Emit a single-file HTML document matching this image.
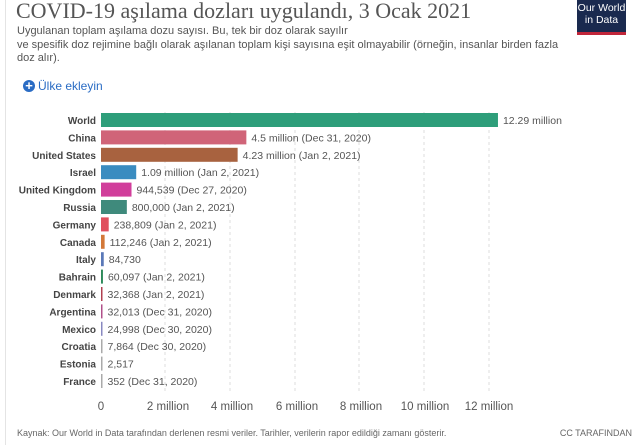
<!DOCTYPE html>
<html><head><style>
body{margin:0;width:640px;height:445px;background:#fff;position:relative;overflow:hidden;font-family:"Liberation Sans",sans-serif;}
.t{position:absolute;white-space:nowrap;}
</style></head><body>
<div style="position:absolute;left:5px;top:0;width:1px;height:445px;background:#e4e4e4"></div>
<div class="t" style="left:16px;top:-2px;font-family:'Liberation Serif',serif;font-size:22px;color:#555">COVID-19 aşılama dozları uygulandı, 3 Ocak 2021</div>
<div class="t" style="left:17px;top:25px;font-size:11px;color:#555;line-height:13.5px">Uygulanan toplam aşılama dozu sayısı. Bu, tek bir doz olarak sayılır<br>ve spesifik doz rejimine bağlı olarak aşılanan toplam kişi sayısına eşit olmayabilir (örneğin, insanlar birden fazla<br>doz alır).</div>
<div style="position:absolute;left:577px;top:0;width:49px;height:35px;background:#1a2a4f;border-bottom:3px solid #c0263a;box-sizing:border-box"></div>
<div class="t" style="left:577px;top:2px;width:49px;text-align:center;color:#fff;font-size:10.5px;line-height:12px">Our World<br>in Data</div>
<div style="position:absolute;left:23px;top:80px;width:12px;height:12px;border-radius:50%;background:#2a6cc4"></div>
<div class="t" style="left:23px;top:78px;width:12px;text-align:center;color:#fff;font-size:13px;font-weight:bold;line-height:15px">+</div>
<div class="t" style="left:38px;top:79px;font-size:12px;color:#2a6cc4">Ülke ekleyin</div>
<svg width="640" height="445" style="position:absolute;left:0;top:0" font-family="Liberation Sans, sans-serif">
<g stroke="#ddd" stroke-dasharray="3,3">
<line x1="165" y1="112" x2="165" y2="392"/><line x1="230" y1="112" x2="230" y2="392"/><line x1="295" y1="112" x2="295" y2="392"/><line x1="359" y1="112" x2="359" y2="392"/><line x1="424" y1="112" x2="424" y2="392"/><line x1="489" y1="112" x2="489" y2="392"/>
</g>
<g font-size="11.5" fill="#555" text-anchor="middle">
<text x="101" y="410">0</text><text x="168" y="410">2 million</text><text x="232" y="410">4 million</text><text x="297" y="410">6 million</text><text x="361" y="410">8 million</text><text x="425" y="410">10 million</text><text x="489" y="410">12 million</text>
</g>
<g id="rows" font-size="10.5">
</g>
<text x="17" y="436" font-size="9" fill="#666">Kaynak: Our World in Data tarafından derlenen resmi veriler. Tarihler, verilerin rapor edildiği zamanı gösterir.</text>
<text x="632" y="436" font-size="9" fill="#666" text-anchor="end">CC TARAFINDAN</text>
</svg>
<script>
var d=[["World",12.29,"#2e9e7a","12.29 million"],["China",4.5,"#d06478","4.5 million (Dec 31, 2020)"],["United States",4.23,"#a8623f","4.23 million (Jan 2, 2021)"],["Israel",1.09,"#3a8cc0","1.09 million (Jan 2, 2021)"],["United Kingdom",0.9445,"#d13e9b","944,539 (Dec 27, 2020)"],["Russia",0.8,"#3f8a7c","800,000 (Jan 2, 2021)"],["Germany",0.2388,"#e0505e","238,809 (Jan 2, 2021)"],["Canada",0.1122,"#d37838","112,246 (Jan 2, 2021)"],["Italy",0.0847,"#5a78b8","84,730"],["Bahrain",0.06,"#2e8a5a","60,097 (Jan 2, 2021)"],["Denmark",0.0324,"#b04050","32,368 (Jan 2, 2021)"],["Argentina",0.032,"#b0508a","32,013 (Dec 31, 2020)"],["Mexico",0.025,"#8888c0","24,998 (Dec 30, 2020)"],["Croatia",0.0079,"#aaa","7,864 (Dec 30, 2020)"],["Estonia",0.0025,"#aaa","2,517"],["France",0.0004,"#aaa","352 (Dec 31, 2020)"]];
var s="";d.forEach(function(r,i){var y=113+i*17.4,w=Math.max(r[1]*32.3,1.5);
s+='<text x="96" y="'+(y+11)+'" text-anchor="end" fill="#444" font-size="10" font-weight="bold">'+r[0]+'</text>';
s+='<rect x="101" y="'+y+'" width="'+w+'" height="14" fill="'+r[2]+'"/>';
s+='<text x="'+(101+w+5)+'" y="'+(y+11)+'" fill="#555">'+r[3]+'</text>';});
document.getElementById("rows").innerHTML=s;
</script>
</body></html>
